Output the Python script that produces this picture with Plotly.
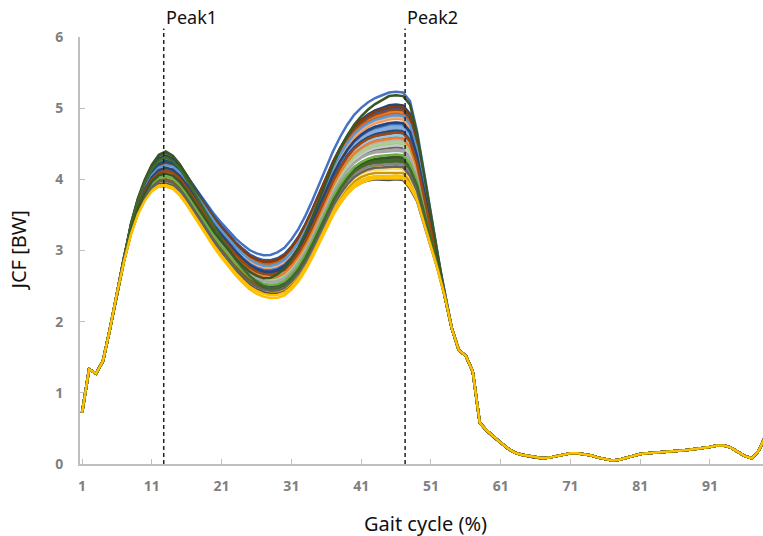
import numpy as np
import plotly.graph_objects as go

# Gait cycle points (%)
gait = list(range(1, 101))

# Mean JCF curve (BW), one value per gait-cycle point
mean_curve = [
    0.72, 1.33, 1.27, 1.45, 1.90, 2.40, 2.88, 3.30, 3.62, 3.85,
    4.02, 4.12, 4.15, 4.12, 4.03, 3.90, 3.75, 3.60, 3.45, 3.30,
    3.17, 3.05, 2.93, 2.83, 2.74, 2.68, 2.64, 2.63, 2.65, 2.70,
    2.80, 2.93, 3.10, 3.30, 3.52, 3.75, 3.95, 4.13, 4.28, 4.40,
    4.48, 4.54, 4.58, 4.60, 4.62, 4.63, 4.62, 4.50, 4.20, 3.75,
    3.30, 2.85, 2.35, 1.90, 1.60, 1.52, 1.30, 0.58, 0.47, 0.38,
    0.30, 0.22, 0.16, 0.13, 0.11, 0.09, 0.08, 0.09, 0.11, 0.13,
    0.15, 0.15, 0.14, 0.12, 0.09, 0.07, 0.05, 0.06, 0.09, 0.12,
    0.14, 0.15, 0.16, 0.17, 0.17, 0.18, 0.19, 0.20, 0.21, 0.22,
    0.24, 0.26, 0.26, 0.23, 0.17, 0.11, 0.08, 0.19, 0.40, 0.60,
]

# Per-subject values read at the three landmarks (BW)
peak1_values = [4.25, 4.20, 4.05, 3.92, 4.15, 4.00, 4.30, 4.22, 4.10, 4.08, 4.12, 4.38,
                4.18, 4.16, 4.02, 3.98, 4.14, 4.06, 4.24, 4.20, 4.00, 3.95, 4.10, 4.28,
                4.12, 4.18, 4.04, 3.96, 4.08, 4.02, 4.34, 4.22, 3.94, 4.00, 4.26, 4.40,
                4.14, 4.10, 4.06, 3.92, 4.20, 4.04, 4.16, 4.12, 3.98, 4.32, 4.08, 3.90]
valley_values = [2.93, 2.85, 2.62, 2.40, 2.75, 2.55, 2.80, 2.82, 2.58, 2.50, 2.70, 2.52,
                 2.78, 2.74, 2.60, 2.45, 2.72, 2.56, 2.86, 2.80, 2.48, 2.42, 2.66, 2.60,
                 2.70, 2.76, 2.54, 2.44, 2.64, 2.58, 2.50, 2.84, 2.40, 2.47, 2.68, 2.46,
                 2.72, 2.62, 2.56, 2.38, 2.78, 2.52, 2.70, 2.66, 2.44, 2.48, 2.60, 2.34]
peak2_values = [5.23, 4.95, 4.40, 4.05, 4.80, 4.30, 5.05, 4.98, 4.45, 4.25, 4.70, 4.25,
                4.90, 4.85, 4.55, 4.20, 4.75, 4.50, 5.00, 4.92, 4.22, 4.10, 4.65, 4.60,
                4.72, 4.88, 4.48, 4.15, 4.62, 4.52, 4.30, 5.02, 4.00, 4.28, 4.68, 4.32,
                4.78, 4.58, 4.42, 4.05, 4.90, 4.35, 4.80, 4.66, 4.18, 4.28, 5.18, 4.02]

series_colors = [
    "#4472C4", "#ED7D31", "#A5A5A5", "#FFC000", "#5B9BD5", "#70AD47",
    "#264478", "#9E480E", "#636363", "#997300", "#255E91", "#43682B",
    "#698ED0", "#F1975A", "#B7B7B7", "#FFCD33", "#7CAFDD", "#8CC168",
    "#335AA1", "#D26012", "#848484", "#CC9A00", "#327DC2", "#5A8A39",
    "#8FAADC", "#F4B183", "#C9C9C9", "#FFD966", "#9DC3E6", "#A9D18E",
    "#203864", "#843C0C", "#525252", "#7F6000", "#1F4E79", "#385723",
    "#4472C4", "#ED7D31", "#A5A5A5", "#FFC000", "#5B9BD5", "#70AD47",
    "#264478", "#9E480E", "#636363", "#43682B", "#385723", "#FFC000",
]

peak_lines = [12.7, 47.3]
peak_labels = ["Peak1", "Peak2"]
x_tickvals = [1, 11, 21, 31, 41, 51, 61, 71, 81, 91]
y_tickvals = [0, 1, 2, 3, 4, 5, 6]

mean_arr = np.array(mean_curve)
gx = np.array(gait, dtype=float)
m_p1, m_v, m_p2 = 4.15, 2.63, 4.63
anchor_x = [1, 6, 12.7, 20, 27.5, 37, 45, 48, 53, 100]

fig = go.Figure()
for k in range(len(peak1_values)):
    d1 = peak1_values[k] - m_p1
    dv = valley_values[k] - m_v
    d2 = peak2_values[k] - m_p2
    offs = [0, 0, d1, (d1 + dv) / 2, dv, (dv + d2) / 2, d2, d2, 0, 0]
    y = mean_arr + np.interp(gx, anchor_x, offs)
    fig.add_trace(go.Scatter(
        x=gait, y=y, mode="lines",
        line=dict(color=series_colors[k], width=2.5),
        showlegend=False, hoverinfo="skip",
    ))

shapes = []
annotations = []
for xv, lab in zip(peak_lines, peak_labels):
    shapes.append(dict(type="line", xref="x", yref="paper", x0=xv, x1=xv, y0=0, y1=1.02,
                       line=dict(color="#222222", width=1.5, dash="4px,3px"), layer="above"))
    annotations.append(dict(text=lab, xref="x", yref="paper", x=xv, y=1.0, xanchor="left",
                            yanchor="middle", xshift=0, yshift=20, showarrow=False,
                            font=dict(family="Noto Sans", size=18, color="#111111")))

annotations.append(dict(text="JCF [BW]", xref="paper", yref="paper", x=0, y=0.5,
                        xanchor="center", yanchor="middle", xshift=-62, yshift=0,
                        textangle=-90, showarrow=False,
                        font=dict(family="Noto Sans", size=20, color="#111111")))
annotations.append(dict(text="Gait cycle (%)", xref="paper", yref="paper", x=0.5, y=0,
                        xanchor="center", yanchor="middle", xshift=4, yshift=-59,
                        showarrow=False,
                        font=dict(family="Noto Sans", size=20, color="#111111")))

fig.update_layout(
    width=763, height=536,
    margin=dict(l=80, r=0, t=37, b=72),
    plot_bgcolor="white", paper_bgcolor="white",
    shapes=shapes, annotations=annotations,
    xaxis=dict(range=[0.7, 98.6], tickvals=x_tickvals, ticktext=[str(v) for v in x_tickvals],
               showgrid=False, zeroline=False, showline=True, linecolor="#BFBFBF", linewidth=2,
               ticks="inside", ticklen=5, tickcolor="#BFBFBF", ticklabelstandoff=8,
               tickfont=dict(family="Noto Sans", size=14, color="#7F7F7F", weight="bold")),
    yaxis=dict(range=[0, 6], tickvals=y_tickvals, showgrid=False, zeroline=False,
               showline=True, linecolor="#BFBFBF", linewidth=2,
               ticks="inside", ticklen=5, tickcolor="#BFBFBF", ticklabelstandoff=12,
               tickfont=dict(family="Noto Sans", size=14, color="#7F7F7F", weight="bold")),
)

# Remove the default page margin so the figure fills the window exactly
fig.write_html("out.html", config={"displayModeBar": False},
               post_script="document.body.style.margin='0';")
